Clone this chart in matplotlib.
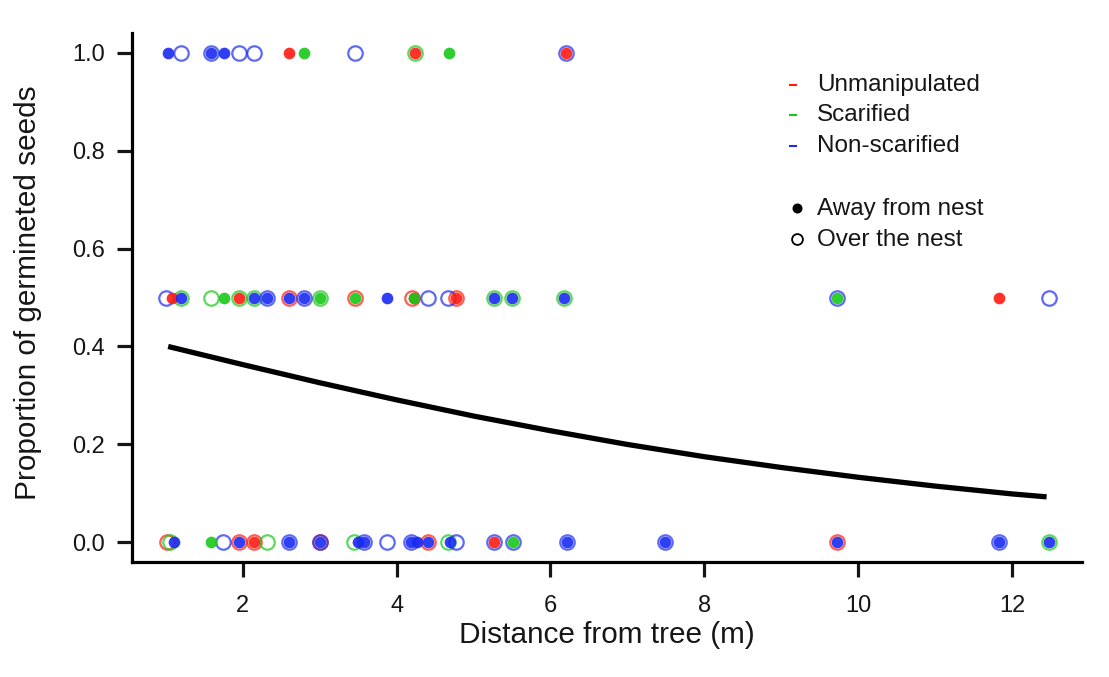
import matplotlib
matplotlib.use('Agg')
import matplotlib.pyplot as plt
from matplotlib.lines import Line2D

plt.rcParams['font.family'] = ['Liberation Sans', 'DejaVu Sans']

# ---------------- data ----------------
# Unmanipulated (red)
unm_away_x = [2.60, 4.24, 6.20, 1.08, 1.95, 4.22, 4.77, 11.83, 2.15, 5.27]
unm_away_y = [1.0, 1.0, 1.0, 0.5, 0.5, 0.5, 0.5, 0.5, 0.0, 0.0]
unm_over_x = [2.60, 3.46, 4.20, 4.77, 1.02, 1.95, 2.15, 3.00, 4.41, 9.72]
unm_over_y = [0.5, 0.5, 0.5, 0.5, 0.0, 0.0, 0.0, 0.0, 0.0, 0.0]

# Scarified (green)
sca_away_x = [2.80, 4.68, 1.75, 3.00, 3.46, 4.22, 9.72, 1.59, 5.51]
sca_away_y = [1.0, 1.0, 0.5, 0.5, 0.5, 0.5, 0.5, 0.0, 0.0]
sca_over_x = [4.24, 1.20, 1.59, 1.95, 2.15, 3.00, 5.27, 5.50, 6.18,
              1.06, 2.31, 3.44, 4.67, 12.48]
sca_over_y = [1.0, 0.5, 0.5, 0.5, 0.5, 0.5, 0.5, 0.5, 0.5,
              0.0, 0.0, 0.0, 0.0, 0.0]

# Non-scarified (blue)
non_away_x = [1.03, 1.59, 1.75,
              1.20, 2.15, 2.31, 2.60, 2.80, 3.88, 5.27, 5.50, 6.18,
              1.10, 1.95, 2.60, 3.00, 3.50, 3.57, 4.19, 4.26, 4.41, 4.69,
              6.21, 7.49, 9.72, 11.83, 12.48]
non_away_y = [1.0, 1.0, 1.0,
              0.5, 0.5, 0.5, 0.5, 0.5, 0.5, 0.5, 0.5, 0.5,
              0.0, 0.0, 0.0, 0.0, 0.0, 0.0, 0.0, 0.0, 0.0, 0.0,
              0.0, 0.0, 0.0, 0.0, 0.0]
non_over_x = [1.20, 1.59, 1.95, 2.14, 3.46, 6.20,
              1.00, 2.31, 2.80, 4.41, 4.67, 9.72, 12.48,
              1.74, 2.60, 3.00, 3.57, 3.87, 4.19, 4.77, 5.27, 5.51, 6.21,
              7.49, 11.83]
non_over_y = [1.0, 1.0, 1.0, 1.0, 1.0, 1.0,
              0.5, 0.5, 0.5, 0.5, 0.5, 0.5, 0.5,
              0.0, 0.0, 0.0, 0.0, 0.0, 0.0, 0.0, 0.0, 0.0, 0.0,
              0.0, 0.0]

# fitted curve
curve_x = [1.03, 2, 3, 4, 5, 6, 7, 8, 9, 10, 11, 12, 12.45]
curve_y = [0.400, 0.363, 0.326, 0.291, 0.258, 0.228, 0.200, 0.175,
           0.153, 0.133, 0.115, 0.099, 0.093]

x_ticks = [2, 4, 6, 8, 10, 12]
y_ticks = [0.0, 0.2, 0.4, 0.6, 0.8, 1.0]
y_tick_labels = ['0.0', '0.2', '0.4', '0.6', '0.8', '1.0']

treat_labels = ['Unmanipulated', 'Scarified', 'Non-scarified']
nest_labels = ['Away from nest', 'Over the nest']
RED, GREEN, BLUE = '#ff1a10', '#18c818', '#1a2af2'
TXT = '#161616'

# ---------------- figure ----------------
W, H = 1109, 677
fig = plt.figure(figsize=(W / 100, H / 100), dpi=100)
ax = fig.add_axes([132 / W, 1 - 562 / H, (1082 - 132) / W, (562 - 33) / H])

groups = [
    (unm_away_x, unm_away_y, unm_over_x, unm_over_y, RED),
    (sca_away_x, sca_away_y, sca_over_x, sca_over_y, GREEN),
    (non_away_x, non_away_y, non_over_x, non_over_y, BLUE),
]
for ax_x, ax_y, ov_x, ov_y, col in groups:
    ax.plot(ov_x, ov_y, 'o', ms=10.4, mfc='none', mec=col, mew=1.6,
            alpha=0.7, zorder=3)
    ax.plot(ax_x, ax_y, 'o', ms=8.4, mfc=col, mec='none', alpha=0.9,
            zorder=4)

ax.plot(curve_x, curve_y, color='black', lw=3.8, solid_capstyle='butt',
        zorder=5)

ax.set_xlim(0.56, 12.91)
ax.set_ylim(-0.04, 1.04)
ax.set_xticks(x_ticks)
ax.set_yticks(y_ticks)
ax.set_yticklabels(y_tick_labels)
for s in ['top', 'right']:
    ax.spines[s].set_visible(False)
for s in ['left', 'bottom']:
    ax.spines[s].set_linewidth(2.3)
ax.tick_params(axis='both', direction='out', length=10.5, width=2.3,
               labelsize=17, colors=TXT)
ax.tick_params(axis='x', pad=13)
ax.tick_params(axis='y', pad=9)

fig.text(607 / W, 1 - 643 / H, 'Distance from tree (m)', ha='center',
         va='baseline', fontsize=21.4, color=TXT)
fig.text(28 / W, 1 - 293 / H, 'Proportion of germineted seeds',
         rotation=90, ha='center', va='center', fontsize=21.4, color=TXT)

# ---------------- legend (manual) ----------------
leg_rows = [85, 115, 146]
for lab, col, yy in zip(treat_labels, [RED, GREEN, BLUE], leg_rows):
    fig.add_artist(Line2D([790 / W, 796 / W], [1 - yy / H, 1 - yy / H],
                          color=col, lw=1.5, transform=fig.transFigure))
    fig.text(817 / W, 1 - yy / H, lab, ha='left', va='center',
             fontsize=17.5, color=TXT)
fig.add_artist(Line2D([797 / W], [1 - 208 / H], marker='o', ms=6.2,
                      mfc='black', mec='black', ls='none',
                      transform=fig.transFigure))
fig.text(817 / W, 1 - 209 / H, nest_labels[0], ha='left', va='center',
         fontsize=17.5, color=TXT)
fig.add_artist(Line2D([797 / W], [1 - 239 / H], marker='o', ms=7.8,
                      mfc='none', mec='black', mew=1.3, ls='none',
                      transform=fig.transFigure))
fig.text(817 / W, 1 - 240 / H, nest_labels[1], ha='left', va='center',
         fontsize=17.5, color=TXT)

fig.savefig('out.png', dpi=100)
